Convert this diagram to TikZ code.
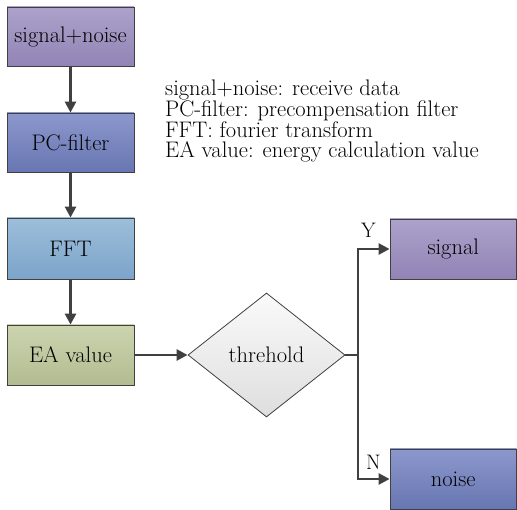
\documentclass[tikz,border=0pt]{standalone}
\usetikzlibrary{shapes.geometric,arrows.meta}
\definecolor{edgegray}{RGB}{64,64,64}
\definecolor{purpTop}{RGB}{172,162,202}
\definecolor{purpBot}{RGB}{146,132,182}
\definecolor{blueTop}{RGB}{140,152,204}
\definecolor{blueBot}{RGB}{104,118,178}
\definecolor{skyTop}{RGB}{156,190,218}
\definecolor{skyBot}{RGB}{124,164,202}
\definecolor{olivTop}{RGB}{204,212,176}
\definecolor{olivBot}{RGB}{178,188,144}
\definecolor{diaTop}{RGB}{250,250,250}
\definecolor{diaBot}{RGB}{222,222,222}
\tikzset{
  box/.style={rectangle, draw=edgegray, line width=0.8pt, inner sep=0pt,
    minimum width=127pt, minimum height=60pt,
    font=\fontsize{22.5}{26}\selectfont},
  purplebox/.style={box, top color=purpTop, bottom color=purpBot},
  bluebox/.style={box, top color=blueTop, bottom color=blueBot},
  skybox/.style={box, top color=skyTop, bottom color=skyBot},
  olivebox/.style={box, top color=olivTop, bottom color=olivBot},
  decision/.style={diamond, draw=edgegray, line width=0.8pt, inner sep=0pt,
    minimum width=157pt, minimum height=124pt,
    top color=diaTop, bottom color=diaBot,
    font=\fontsize{22.5}{26}\selectfont},
  flow/.style={draw=edgegray, line width=2.6pt,
    -{Triangle[length=11pt,width=11pt]}},
  link/.style={draw=edgegray, line width=2.6pt},
  tag/.style={font=\fontsize{21}{24}\selectfont, inner sep=0pt}
}
\begin{document}
\begin{tikzpicture}[x=1pt,y=-1pt]
  \useasboundingbox (0,0) rectangle (517,510);
  % process chain
  \node[purplebox, minimum height=59pt] (sn)  at (70.5,36.5) {signal+noise};
  \node[bluebox,   minimum height=59pt] (pc)  at (70.5,142.5) {PC-filter};
  \node[skybox,    minimum height=61pt] (fft) at (70.5,248.5) {FFT};
  \node[olivebox]                       (ea)  at (70.5,355) {EA value};
  \node[decision]                       (th)  at (266.5,355) {threhold};
  % outcomes
  \node[purplebox, minimum width=126.5pt] (sig) at (453.25,249) {signal};
  \node[bluebox,   minimum width=126.5pt] (noi) at (453.25,479) {noise};
  % legend (anchored on the baseline of its last line)
  \node[anchor=base west, align=left, inner sep=0pt,
        font=\fontsize{22.5}{20.7}\selectfont] (legend) at (165,158)
    {signal+noise: receive data\\
     PC-filter: precompensation filter\\
     FFT: fourier transform\\
     EA value: energy calculation value};
  % connectors
  \draw[flow] (sn) -- (pc);
  \draw[flow] (pc) -- (fft);
  \draw[flow] (fft) -- (ea);
  \draw[flow] (ea) -- (th);
  \coordinate (split) at (358,355);
  \draw[link] (th.east) -- (split);
  \draw[flow] (split) |- (sig.west);
  \draw[flow] (split) |- (noi.west);
  % branch labels
  \node[tag, anchor=base] (ylab) at (368.5,238) {Y};
  \node[tag, anchor=base] (nlab) at (373.5,470) {N};
\end{tikzpicture}
\end{document}
